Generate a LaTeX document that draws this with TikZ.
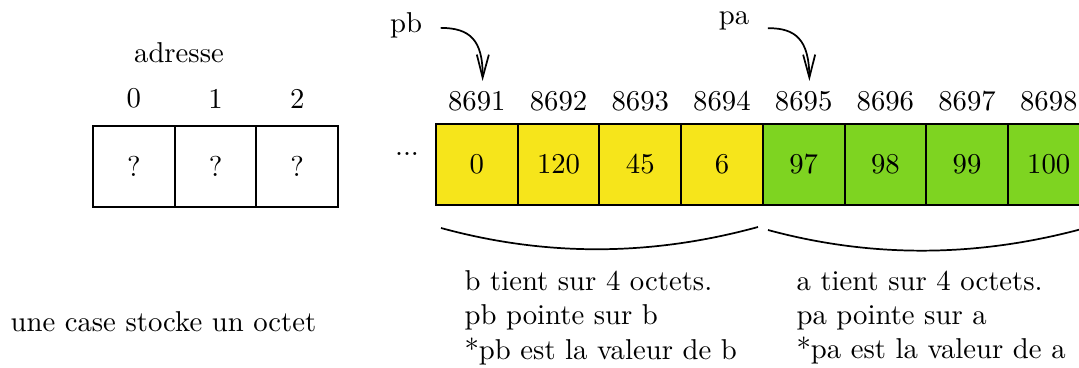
\documentclass[tikz,border=0pt]{standalone}
\usetikzlibrary{arrows.meta}
\definecolor{byteyellow}{RGB}{246,229,27}
\definecolor{bytegreen}{RGB}{126,212,33}
\begin{document}
\begin{tikzpicture}[x=0.3482pt,y=-0.3482pt,
  cell/.style={draw, line width=0.7pt, minimum size=28.45pt, inner sep=0pt},
  ptr/.style={line width=0.6pt, -{Straight Barb[length=8pt,width=4.2pt]}},
  brace/.style={line width=0.6pt},
  note/.style={inner sep=0pt, align=left, anchor=north west}]
\useasboundingbox (0,0) rectangle (1079,368);

% small memory: addresses 0..2
\node (adr) at (179,52.5) {adresse};
\node (a0) at (133.85,98.5) {0};
\node (a1) at (215.55,98.5) {1};
\node (a2) at (297.25,98.5) {2};
\node[cell] (c0) at (133.85,166.5) {?};
\node[cell] (c1) at (215.55,166.5) {?};
\node[cell] (c2) at (297.25,166.5) {?};
\node (dots) at (407,154) {...};

% bytes of b
\node (t8691) at (476.85,101) {8691};
\node (t8692) at (558.55,101) {8692};
\node (t8693) at (640.25,101) {8693};
\node (t8694) at (721.95,101) {8694};
\node[cell, fill=byteyellow] (b0) at (476.85,164.5) {0};
\node[cell, fill=byteyellow] (b1) at (558.55,164.5) {120};
\node[cell, fill=byteyellow] (b2) at (640.25,164.5) {45};
\node[cell, fill=byteyellow] (b3) at (721.95,164.5) {6};

% bytes of a
\node (t8695) at (803.65,101) {8695};
\node (t8696) at (885.35,101) {8696};
\node (t8697) at (967.05,101) {8697};
\node (t8698) at (1048.75,101) {8698};
\node[cell, fill=bytegreen] (g0) at (803.65,164.5) {97};
\node[cell, fill=bytegreen] (g1) at (885.35,164.5) {98};
\node[cell, fill=bytegreen] (g2) at (967.05,164.5) {99};
\node[cell, fill=bytegreen] (g3) at (1048.75,164.5) {100};

% pointers
\node (pb) at (406,25) {pb};
\node (pa) at (734,21) {pa};
\draw[ptr] ([shift={(3pt,-1pt)}]pb.east) .. controls (470,28) and (483,40) .. ([xshift=2pt]t8691.north);
\draw[ptr] ([shift={(3pt,-2.5pt)}]pa.east) .. controls (796,28) and (809,40) .. ([xshift=2pt]t8695.north);

% braces under each variable
\coordinate (bl1) at (441,228);
\coordinate (bl2) at (758,227);
\coordinate (br1) at (768,230);
\coordinate (br2) at (1089,227);
\draw[brace] (bl1) .. controls (547,257) and (652,256) .. (bl2);
\draw[brace] (br1) .. controls (875,259) and (982,257) .. (br2);

% explanations
\node[note] (nb) at (464,270) {b tient sur 4 octets.\\pb pointe sur b\\*pb est la valeur de b};
\node[note] (na) at (796,270) {a tient sur 4 octets.\\pa pointe sur a\\*pa est la valeur de a};
\node[inner sep=0pt, anchor=base west] (case) at (10,331) {une case stocke un octet};
\end{tikzpicture}
\end{document}
